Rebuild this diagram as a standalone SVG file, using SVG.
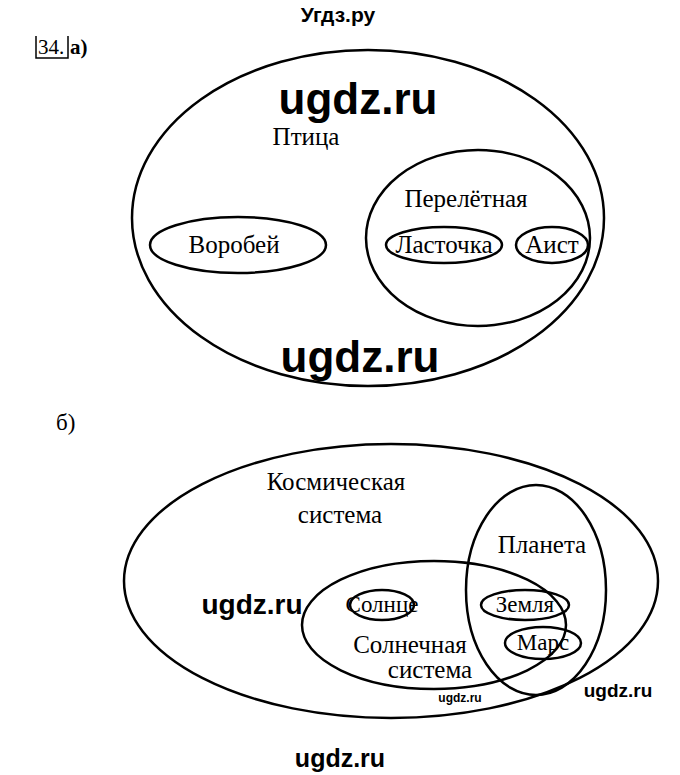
<svg xmlns="http://www.w3.org/2000/svg" width="680" height="775" viewBox="0 0 680 775">
<style>
.e{fill:none;stroke:#000;stroke-width:2.5}
.t{font-family:"Liberation Serif",serif;font-size:25px;text-anchor:middle;fill:#000}
.s{font-size:23px}
.w{font-family:"Liberation Sans",sans-serif;font-weight:bold;text-anchor:middle;fill:#000}
</style>
<rect width="680" height="775" fill="#fff"/>
<text class="w" x="338" y="22" font-size="21">Угдз.ру</text>
<g id="label-a">
<path d="M36 36 V58 H68 V36" fill="none" stroke="#000" stroke-width="1.5"/>
<text x="38" y="54" font-family="Liberation Serif,serif" font-size="21">34.</text>
<text x="70" y="54" font-family="Liberation Serif,serif" font-size="21" font-weight="bold">а)</text>
</g>
<g id="ptitsa"><ellipse class="e" cx="368" cy="218" rx="236" ry="168"/><text class="t" x="306" y="145">Птица</text></g>
<g id="pereletnaya"><ellipse class="e" cx="478" cy="238" rx="112" ry="88"/><text class="t" x="466" y="207">Перелётная</text></g>
<g id="vorobey"><ellipse class="e" cx="238" cy="245" rx="88" ry="28"/><text class="t" x="234" y="253">Воробей</text></g>
<g id="lastochka"><ellipse class="e" cx="444" cy="245" rx="58" ry="18"/><text class="t" x="444" y="253">Ласточка</text></g>
<g id="aist"><ellipse class="e" cx="552" cy="245" rx="36" ry="18"/><text class="t" x="552" y="253">Аист</text></g>
<text class="w" x="358" y="114" font-size="44">ugdz.ru</text>
<text class="w" x="360" y="372" font-size="44">ugdz.ru</text>
<text x="56" y="430" font-family="Liberation Serif,serif" font-size="23">б)</text>
<g id="kosm"><ellipse class="e" cx="391" cy="581" rx="267" ry="137"/><text class="t" x="336" y="490">Космическая</text><text class="t" x="340" y="523">система</text></g>
<g id="planeta"><ellipse class="e" cx="536" cy="590" rx="70" ry="105"/><text class="t" x="542" y="553">Планета</text></g>
<g id="solsys"><ellipse class="e" cx="434" cy="625" rx="132" ry="64"/><text class="t" x="410" y="653">Солнечная</text><text class="t" x="430" y="678">система</text></g>
<g id="solntse"><ellipse class="e" cx="382" cy="605" rx="32" ry="15"/><text class="t s" x="382" y="612">Солнце</text></g>
<g id="zemlya"><ellipse class="e" cx="525" cy="605" rx="44" ry="15"/><text class="t s" x="525" y="612">Земля</text></g>
<g id="mars"><ellipse class="e" cx="543" cy="643" rx="38" ry="16"/><text class="t s" x="543" y="650">Марс</text></g>
<text class="w" x="252" y="614" font-size="28">ugdz.ru</text>
<text class="w" x="460" y="702" font-size="12">ugdz.ru</text>
<text class="w" x="618" y="697" font-size="19">ugdz.ru</text>
<text class="w" x="340" y="767" font-size="25">ugdz.ru</text>
</svg>
